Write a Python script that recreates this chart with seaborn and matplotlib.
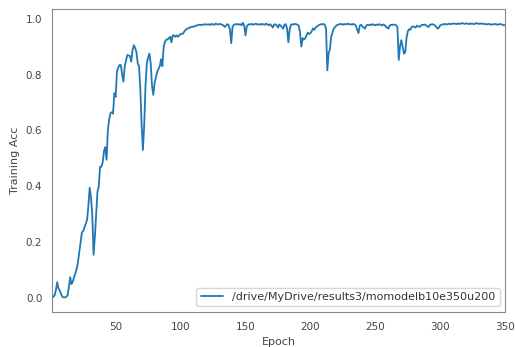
import matplotlib
matplotlib.use("Agg")
import matplotlib.pyplot as plt
import seaborn as sns
import pandas as pd
import numpy as np

label = "/drive/MyDrive/results3/momodelb10e350u200"

acc_001_050 = [0.00, 0.005, 0.01, 0.03, 0.057, 0.035, 0.027, 0.015, 0.005, 0.003,
               0.003, 0.005, 0.01, 0.04, 0.075, 0.05, 0.06, 0.075, 0.09, 0.105,
               0.13, 0.165, 0.20, 0.235, 0.24, 0.253, 0.265, 0.28, 0.33, 0.395,
               0.36, 0.30, 0.155, 0.22, 0.30, 0.38, 0.40, 0.47, 0.47, 0.485,
               0.525, 0.54, 0.495, 0.60, 0.64, 0.662, 0.665, 0.66, 0.733, 0.72]
acc_051_100 = [0.81, 0.825, 0.834, 0.834, 0.80, 0.774, 0.83, 0.85, 0.87, 0.868,
               0.866, 0.846, 0.887, 0.905, 0.895, 0.88, 0.84, 0.83, 0.75, 0.62,
               0.53, 0.62, 0.76, 0.84, 0.86, 0.875, 0.84, 0.76, 0.727, 0.77,
               0.79, 0.81, 0.82, 0.83, 0.855, 0.83, 0.90, 0.917, 0.925, 0.925,
               0.93, 0.935, 0.915, 0.94, 0.94, 0.935, 0.94, 0.935, 0.94, 0.945]
acc_101_150 = [0.945, 0.947, 0.955, 0.96, 0.964, 0.965, 0.968, 0.97, 0.97, 0.972,
               0.972, 0.975, 0.976, 0.978, 0.978, 0.977, 0.979, 0.978, 0.98, 0.979,
               0.978, 0.980, 0.977, 0.981, 0.979, 0.978, 0.982, 0.980, 0.979, 0.981,
               0.980, 0.978, 0.976, 0.970, 0.975, 0.980, 0.977, 0.960, 0.912, 0.970,
               0.978, 0.980, 0.979, 0.981, 0.978, 0.980, 0.976, 0.985, 0.975, 0.940]
acc_151_200 = [0.972, 0.978, 0.980, 0.979, 0.981, 0.978, 0.980, 0.982, 0.979, 0.980,
               0.978, 0.981, 0.979, 0.980, 0.978, 0.982, 0.979, 0.976, 0.980, 0.975,
               0.968, 0.978, 0.980, 0.976, 0.968, 0.979, 0.975, 0.970, 0.964, 0.978,
               0.980, 0.965, 0.915, 0.960, 0.978, 0.980, 0.979, 0.981, 0.980, 0.978,
               0.975, 0.950, 0.900, 0.930, 0.925, 0.930, 0.940, 0.950, 0.945, 0.948]
acc_201_250 = [0.955, 0.965, 0.960, 0.968, 0.972, 0.975, 0.978, 0.980, 0.979, 0.981,
               0.978, 0.965, 0.815, 0.876, 0.890, 0.935, 0.950, 0.965, 0.970, 0.975,
               0.978, 0.979, 0.981, 0.980, 0.978, 0.981, 0.979, 0.980, 0.982, 0.979,
               0.980, 0.978, 0.981, 0.979, 0.975, 0.960, 0.948, 0.975, 0.978, 0.972,
               0.968, 0.964, 0.975, 0.978, 0.976, 0.979, 0.977, 0.980, 0.978, 0.976]
acc_251_300 = [0.979, 0.977, 0.980, 0.978, 0.975, 0.979, 0.977, 0.972, 0.968, 0.964,
               0.975, 0.978, 0.977, 0.979, 0.978, 0.976, 0.970, 0.852, 0.900, 0.923,
               0.900, 0.875, 0.880, 0.930, 0.955, 0.962, 0.960, 0.970, 0.972, 0.970,
               0.968, 0.975, 0.972, 0.970, 0.974, 0.978, 0.977, 0.979, 0.976, 0.972,
               0.970, 0.978, 0.979, 0.980, 0.978, 0.975, 0.970, 0.964, 0.968, 0.976]
acc_301_350 = [0.978, 0.980, 0.979, 0.981, 0.979, 0.980, 0.982, 0.980, 0.981, 0.983,
               0.981, 0.982, 0.980, 0.983, 0.981, 0.982, 0.984, 0.982, 0.981, 0.983,
               0.982, 0.980, 0.983, 0.981, 0.982, 0.980, 0.982, 0.984, 0.982, 0.981,
               0.983, 0.981, 0.982, 0.980, 0.981, 0.979, 0.981, 0.980, 0.978, 0.980,
               0.979, 0.981, 0.980, 0.978, 0.979, 0.981, 0.979, 0.978, 0.976, 0.977]

acc = (acc_001_050 + acc_051_100 + acc_101_150 + acc_151_200 +
       acc_201_250 + acc_251_300 + acc_301_350)
epochs = list(range(1, len(acc) + 1))

df = pd.DataFrame({"Epoch": epochs, "Training Acc": acc})

sns.set_style("white")
plt.rcParams["font.family"] = ["DejaVu Sans"]

fig = plt.figure(figsize=(5.15, 3.47), dpi=100)
ax = fig.add_axes([0.101, 0.101, 0.880, 0.873])
sns.lineplot(data=df, x="Epoch", y="Training Acc", ax=ax, label=label,
             color="#1f77b4", linewidth=1.3)
ax.set_xlim(1, 350)
ax.set_xticks([50, 100, 150, 200, 250, 300, 350])
ax.set_yticks([0.0, 0.2, 0.4, 0.6, 0.8, 1.0])
ax.tick_params(labelsize=7.5, colors="#444444")
ax.set_xlabel("Epoch", fontsize=8, color="#444444")
ax.set_ylabel("Training Acc", fontsize=8, color="#444444")
for s in ax.spines.values():
    s.set_color("#888888")
leg = ax.legend(loc="lower right", fontsize=8, frameon=True)
for t in leg.get_texts():
    t.set_color("#333333")
fig.savefig("out.png", dpi=100)
